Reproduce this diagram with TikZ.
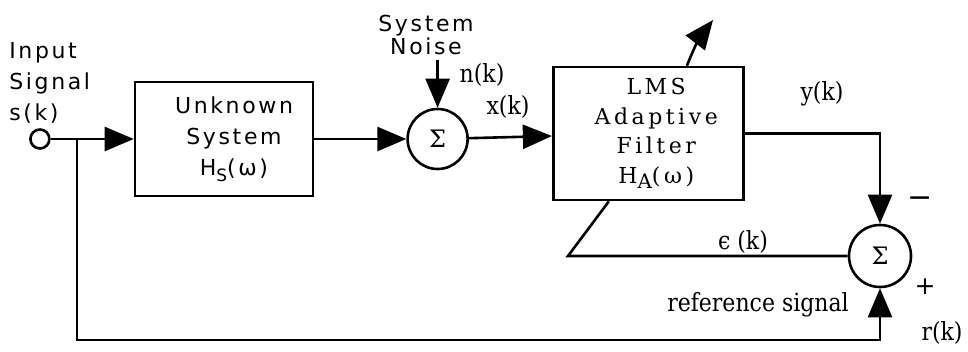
\documentclass[tikz,border=0pt]{standalone}
\usepackage{fontspec}
\newfontfamily\sanslbl[LetterSpace=12]{DejaVu Sans}
\newfontfamily\signlbl{DejaVu Sans}
\newfontfamily\slablbl[FakeStretch=0.88]{DejaVu Serif}
\newfontfamily\sumlbl{DejaVu Serif}
\newfontfamily\slabwide[LetterSpace=16]{DejaVu Serif}
\usetikzlibrary{arrows.meta,positioning,calc}

\begin{document}
\begin{tikzpicture}[
  x=1pt, y=-1pt,
  line width=2.6pt,
  >={Triangle[length=29pt,width=24pt]},
  block/.style={draw, inner sep=0pt, align=center},
  sumnode/.style={draw, circle, minimum size=60pt, inner sep=0pt, font=\sumlbl\fontsize{24}{24}\selectfont},
  lbl/.style={inner sep=0pt, font=\slablbl\fontsize{25}{27}\selectfont},
  sanstext/.style={inner sep=0pt, align=center, font=\sanslbl\fontsize{22}{31}\selectfont},
  sign/.style={inner sep=0pt, font=\signlbl\fontsize{30}{30}\selectfont},
]
\useasboundingbox (0,0) rectangle (968,351);

% blocks
\node[block, sanstext, minimum width=178pt, minimum height=114pt] (unk) at (224,139)
  {\hspace*{20pt}Unknown\\\hspace*{20pt}System\\\hspace*{20pt}H\raisebox{-6pt}{\fontsize{17}{17}\selectfont S}(ω)};
\node[draw, circle, fill=white, minimum size=19pt, inner sep=0pt, left=83pt of unk] (in) {};
\node[sumnode, right=92pt of unk] (sum1) {Σ};
\node[block, minimum width=190pt, minimum height=133pt, right=83pt of sum1, yshift=5.5pt,
  font=\slabwide\fontsize{22}{29.5}\selectfont] (lms)
  {\hspace*{16pt}LMS\\\hspace*{16pt}Adaptive\\\hspace*{16pt}Filter\\\hspace*{16pt}H\raisebox{-5pt}{\fontsize{20}{20}\selectfont A}(ω)};
\node[sumnode, minimum size=62pt] (sum2) at (880,256) {Σ};

% free ends
\coordinate (tap) at (77,139);
\coordinate (refcorner) at (880,340);
\coordinate[above=48pt of sum1] (noisein);
\coordinate (ecorner) at (568,256);
\coordinate (adbot) at ($(lms.south west)+(57,0)$);
\coordinate (adtop) at ($(lms.north west)+(135,0)$);
\coordinate (adtip) at (713,20);

% connectors
\draw[->] (in) -- (unk);
\draw[->] (unk) -- (sum1);
\draw[->] (noisein) -- (sum1);
\draw[->] (sum1) -- (lms);
\draw[->] (lms.east) -| (sum2.north);
\draw[->] (tap) |- (refcorner) -- (sum2.south);
\draw (sum2.west) -- (ecorner) -- (adbot);
\draw[->] (adtop) to[bend left=8] (adtip);

% labels
\node[sanstext, align=left, anchor=west] (inlbl) at (8,83) {Input\\Signal\\s(k)};
\node[sanstext, font=\sanslbl\fontsize{22}{23}\selectfont] (noiselbl) at (426,35) {System\\Noise};
\node[lbl] (nlbl) at (482,75) {n(k)};
\node[lbl] (xlbl) at (508,107) {x(k)};
\node[lbl] (ylbl) at (822,94) {y(k)};
\node[lbl] (elbl) at (743,242) {ϵ (k)};
\node[lbl] (reflbl) at (758,305) {reference signal};
\node[lbl] (rlbl) at (942,333) {r(k)};
\node[sign] (minus) at (920,202) {−};
\node[sign, font=\signlbl\fontsize{25}{25}\selectfont] (plus) at (925,287) {+};
\end{tikzpicture}
\end{document}
